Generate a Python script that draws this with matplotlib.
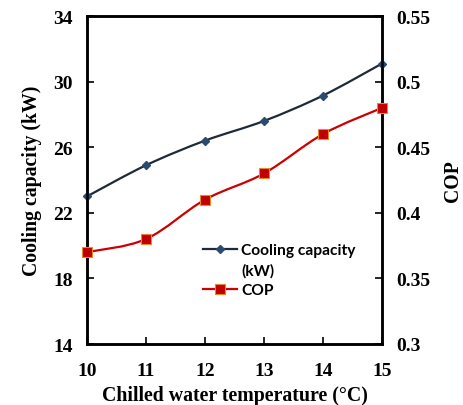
import numpy as np
import matplotlib
matplotlib.use("Agg")
import matplotlib.pyplot as plt
from matplotlib.path import Path
from matplotlib.patches import PathPatch
from matplotlib.lines import Line2D

temps = [10, 11, 12, 13, 14, 15]
capacity = [23.0, 24.9, 26.4, 27.6, 29.15, 31.1]
cop = [0.37, 0.38, 0.41, 0.43, 0.46, 0.48]

cap_color = "#1f2a38"
cop_color = "#cc0000"


def smooth_path(x, y):
    # cubic bezier through the points, Excel-style smoothing
    x = np.asarray(x, float)
    y = np.asarray(y, float)
    verts = [(x[0], y[0])]
    codes = [Path.MOVETO]
    n = len(x)
    for i in range(n - 1):
        p0 = (x[max(i - 1, 0)], y[max(i - 1, 0)])
        p1 = (x[i], y[i])
        p2 = (x[i + 1], y[i + 1])
        p3 = (x[min(i + 2, n - 1)], y[min(i + 2, n - 1)])
        c1 = (p1[0] + (p2[0] - p0[0]) / 6, p1[1] + (p2[1] - p0[1]) / 6)
        c2 = (p2[0] - (p3[0] - p1[0]) / 6, p2[1] - (p3[1] - p1[1]) / 6)
        verts += [c1, c2, p2]
        codes += [Path.CURVE4] * 3
    return Path(verts, codes)


plt.rcParams['font.family'] = ['Liberation Serif']
plt.rcParams['font.weight'] = 'bold'

fig = plt.figure(figsize=(4.63, 4.06), dpi=100)
ax = fig.add_axes([87 / 463, 1 - 345 / 406, 295 / 463, 328 / 406])
ax2 = ax.twinx()

ax.add_patch(PathPatch(smooth_path(temps, capacity), fill=False,
                       edgecolor=cap_color, lw=1.6, zorder=3))
ax.plot(temps, capacity, ls='none', marker='D', ms=4.5,
        mfc="#2b4a6e", mec="#2b4a6e", zorder=4, clip_on=False)

ax2.add_patch(PathPatch(smooth_path(temps, cop), fill=False,
                        edgecolor=cop_color, lw=1.6, zorder=3))
ax2.plot(temps, cop, ls='none', marker='s', ms=6.5,
         mfc="#c00000", mec="#e8862a", mew=0.8, zorder=4, clip_on=False)

ax.set_xlim(10, 15)
ax.set_ylim(14, 34)
ax2.set_ylim(0.3, 0.55)
ax.set_xticks(temps)
ax.set_yticks(np.arange(14, 35, 4))
ax2.set_yticks([0.3, 0.35, 0.4, 0.45, 0.5, 0.55])
ax2.set_yticklabels(['0.3', '0.35', '0.4', '0.45', '0.5', '0.55'])

for a in (ax, ax2):
    for s in a.spines.values():
        s.set_linewidth(1.8)
    a.tick_params(direction='in', length=5, width=1.2, labelsize=14, pad=10)
ax.tick_params(axis='x', pad=13)

ax.set_xlabel("Chilled water temperature (°C)", fontsize=14.3, fontweight='bold', labelpad=4)
ax.set_ylabel("Cooling capacity (kW)", fontsize=14.2, fontweight='bold', labelpad=8)
ax2.set_ylabel("COP", fontsize=14.2, fontweight='bold', labelpad=9)

handles = [
    Line2D([], [], color=cap_color, lw=1.6, marker='D', ms=4.5,
           mfc="#2b4a6e", mec="#2b4a6e"),
    Line2D([], [], color='none'),
    Line2D([], [], color=cop_color, lw=1.6, marker='s', ms=6.5,
           mfc="#c00000", mec="#e8862a", mew=0.8),
]
ax.legend(handles, ["Cooling capacity", "(kW)", "COP"], loc='upper left',
          bbox_to_anchor=(0.393, 0.308), frameon=False, handlelength=2.2,
          handletextpad=0.25, labelspacing=0.38, borderpad=0, borderaxespad=0,
          prop={'family': 'Lato', 'weight': 'bold', 'size': 11.2})

fig.savefig("out.png", dpi=100)
